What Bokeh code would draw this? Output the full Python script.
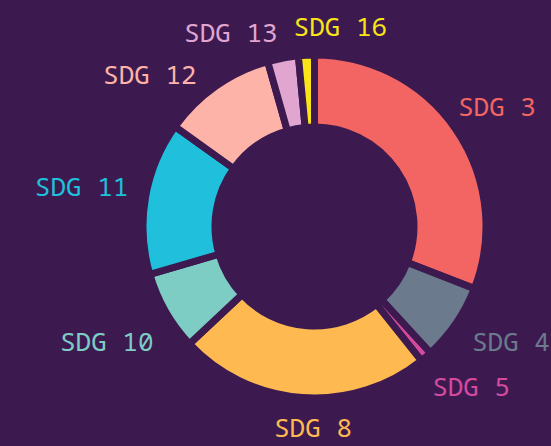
import math
from bokeh.plotting import figure
from bokeh.models import ColumnDataSource, Range1d, GlobalInlineStyleSheet
from bokeh.core.properties import value
from bokeh.embed import file_html
from bokeh.resources import INLINE

# ---- data ----
labels = ["SDG 3", "SDG 4", "SDG 5", "SDG 8", "SDG 10", "SDG 11", "SDG 12", "SDG 13", "SDG 16"]
shares = [30.9, 7.3, 1.1, 23.7, 7.5, 14.4, 10.7, 2.9, 1.5]
colors = ["#f26562", "#6b7a8c", "#d54a9e", "#ffb951", "#7ecdc5", "#20bfdb", "#fdb3a7", "#e1a6d0", "#f9e41a"]

# ---- layout / style ----
BG = "#3c1a50"
W, H = 551, 446
CX, CY = 314, H - 226
R_OUT, R_IN = 171.5, 99.5
GAP = 7
LABEL_R = 215
label_dx = [5, 19, 17, 14, -21, -21, -41, -44, 36]
label_dy = [1, -7, -4, -14, 8, -4, 23, 17, 14]

total = sum(shares)
starts, ends, mids = [], [], []
acc = 0.0
for s in shares:
    a0 = acc / total * 2 * math.pi
    acc += s
    a1 = acc / total * 2 * math.pi
    starts.append(math.pi / 2 - a0)
    ends.append(math.pi / 2 - a1)
    mids.append((a0 + a1) / 2)

lx = [CX + LABEL_R * math.sin(m) for m in mids]
ly = [CY + LABEL_R * math.cos(m) for m in mids]

src = ColumnDataSource(dict(start=starts, end=ends, color=colors))
lsrc = ColumnDataSource(dict(x=lx, y=ly, text=labels, color=colors, dx=label_dx, dy=label_dy))

p = figure(width=W, height=H, output_backend="svg", toolbar_location=None,
           x_range=Range1d(0, W), y_range=Range1d(0, H), min_border=0,
           background_fill_color=BG, border_fill_color=BG, outline_line_color=None)
p.axis.visible = False
p.grid.visible = False
p.stylesheets = [GlobalInlineStyleSheet(css=f"body {{ margin: 0; background: {BG}; overflow: hidden; }}")]

p.annular_wedge(x=CX, y=CY, inner_radius=R_IN, outer_radius=R_OUT,
                start_angle="start", end_angle="end", direction="clock",
                fill_color="color", line_color=BG, line_width=GAP, source=src)

p.text(x="x", y="y", text="text", text_color="color", source=lsrc,
       x_offset="dx", y_offset="dy",
       text_font=value("Noto Sans Mono, DejaVu Sans Mono, monospace"),
       text_font_size="26px", text_align="center", text_baseline="middle")

open("out.html", "w").write(file_html(p, INLINE))
